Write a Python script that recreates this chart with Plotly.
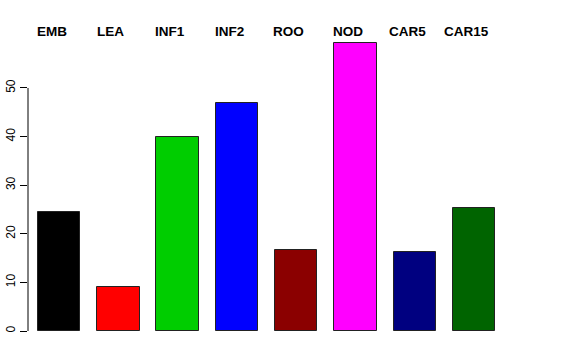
import plotly.graph_objects as go

categories = ["EMB", "LEA", "INF1", "INF2", "ROO", "NOD", "CAR5", "CAR15"]
values = [24.5, 9.1, 39.9, 46.9, 16.6, 59.2, 16.3, 25.4]
colors = ["#000000", "#FF0000", "#00CD00", "#0000FF", "#8B0000", "#FF00FF", "#000080", "#006400"]
y_ticks = [0, 10, 20, 30, 40, 50]

x_idx = list(range(len(categories)))

fig = go.Figure()
fig.add_trace(go.Bar(
    x=x_idx, y=values, width=0.714,
    marker=dict(color=colors, line=dict(color="#222222", width=1)),
    showlegend=False, hoverinfo="skip",
))

for i, c in enumerate(categories):
    fig.add_annotation(x=i, y=1, xref="x", yref="paper", text="<b>" + c + "</b>",
                       showarrow=False, xshift=-7.5, yanchor="middle", yshift=-1,
                       font=dict(family="Liberation Sans, Arial", size=13.5, color="black"))

fig.add_shape(type="line", xref="paper", yref="y", x0=0, x1=0, y0=0, y1=50,
              line=dict(color="black", width=1))

fig.update_layout(
    width=576, height=360,
    margin=dict(l=28, r=20, t=30, b=22, autoexpand=False),
    plot_bgcolor="white", paper_bgcolor="white",
    font=dict(family="Liberation Sans, Arial", size=12, color="black"),
    bargap=0,
)
fig.update_xaxes(range=[-0.523, 8.38], showticklabels=False, showgrid=False,
                 zeroline=False, showline=False, ticks="", automargin=False)
fig.update_yaxes(range=[-1.44, 61.93], tickvals=y_ticks, ticktext=[str(v) for v in y_ticks],
                 tickangle=-90, ticks="outside", ticklen=7, tickcolor="black",
                 showgrid=False, zeroline=False, showline=False, automargin=False,
                 tickfont=dict(size=12, color="black"))

fig.write_html("out.html", config={"displayModeBar": False},
               post_script="document.body.style.margin='0px';document.body.style.overflow='hidden';")
